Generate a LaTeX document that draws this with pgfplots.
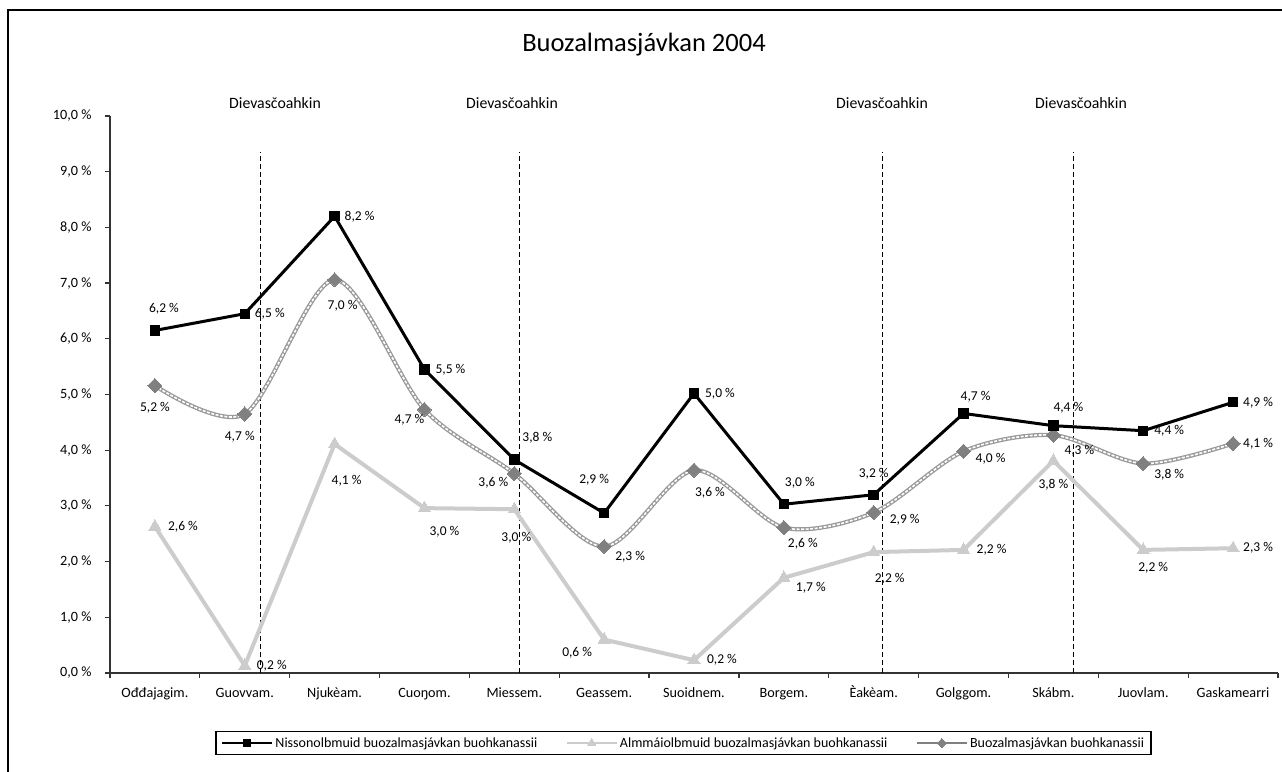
\documentclass[border=0pt]{standalone}
\usepackage{pgfplots}
\usepackage{pgfplotstable}
\pgfplotsset{compat=1.18}
\usepackage{fontspec}
\setmainfont{Carlito}
\definecolor{lightg}{HTML}{CCCCCC}
\definecolor{midg}{HTML}{808080}
\definecolor{dblg}{HTML}{9A9A9A}
\definecolor{axg}{HTML}{333333}

\pgfplotstableread{
x y lab dx dy
0 6.15 6,2 9 22
1 6.45 6,5 25 0
2 8.20 8,2 25 0
3 5.45 5,5 26 0
4 3.83 3,8 23 22
5 2.87 2,9 -10 33
6 5.02 5,0 26 0
7 3.03 3,0 16 21
8 3.20 3,2 0 21
9 4.66 4,7 12 17
10 4.44 4,4 15 18
11 4.35 4,4 26 0
12 4.86 4,9 25 0
}\women

\pgfplotstableread{
x y lab dx dy
0 2.63 2,6 28 0
1 0.13 0,2 27 0
2 4.11 4,1 12 -37
3 2.96 3,0 20 -24
4 2.94 3,0 2 -29
5 0.60 0,6 -27 -13
6 0.23 0,2 28 0
7 1.71 1,7 27 -10
8 2.17 2,2 16 -27
9 2.21 2,2 28 0
10 3.81 3,8 0 -24
11 2.21 2,2 10 -18
12 2.24 2,3 25 0
}\men

\pgfplotstableread{
x y lab dx dy
0 5.16 5,2 0 -22
1 4.65 4,7 -5 -23
2 7.06 7,0 8 -26
3 4.73 4,7 -15 -10
4 3.58 3,6 -21 -9
5 2.27 2,3 26 -10
6 3.64 3,6 16 -23
7 2.61 2,6 19 -16
8 2.88 2,9 31 -7
9 3.98 4,0 27 -7
10 4.27 4,3 26 -16
11 3.76 3,8 26 -11
12 4.12 4,1 25 0
}\total

\pgfplotsset{
  lbl/.style={
    nodes near coords={\pgfplotspointmeta{} \%},
    point meta=explicit symbolic,
    visualization depends on={\thisrow{dx} \as \dx},
    visualization depends on={\thisrow{dy} \as \dy},
    nodes near coords style={anchor=center, xshift=\dx pt, yshift=\dy pt, font=\fontsize{13.5}{15}\selectfont, text=black, inner sep=0pt},
  },
  vline/.style={forget plot, black, line width=0.9pt, dash pattern=on 5pt off 3pt},
}

\begin{document}
\begin{tikzpicture}
\path[use as bounding box] (0pt,0pt) rectangle (1282pt,771pt);
\draw[line width=1.3pt, black] (8pt,-5pt) -- (8pt,761pt) -- (1290pt,761pt);
\node[font=\fontsize{26.5}{30}\selectfont] at (644pt,726pt) {Buozalmasjávkan 2004};
\foreach \xx in {275,512,882,1081} {
  \node[font=\fontsize{15.8}{18}\selectfont] at (\xx pt,668pt) {Dievasčoahkin};
}
\begin{axis}[
  at={(110pt,98pt)}, anchor=south west,
  scale only axis, width=1168pt, height=557pt,
  xmin=-0.5, xmax=12.5, ymin=0, ymax=10,
  axis lines=left,
  axis line style={-, axg, line width=1.4pt},
  clip=false,
  xtick={0,...,12},
  xticklabels={Ođđajagim., Guovvam., Njukèam., Cuoŋom., Miessem., Geassem., Suoidnem., Borgem., Èakèam., Golggom., Skábm., Juovlam., Gaskamearri},
  major x tick style={draw=none},
  minor xtick={-0.5,0.5,...,12.5},
  minor tick length=5pt,
  ytick={0,1,...,10},
  major tick length=5pt,
  tick align=outside,
  tick style={axg, line width=1.2pt},
  /pgf/number format/assume math mode=true,
  yticklabel={\pgfmathprintnumber[fixed,fixed zerofill,precision=1,use comma]{\tick} \%},
  ticklabel style={font=\fontsize{14.2}{16}\selectfont},
  xticklabel style={text height=11pt, text depth=3pt, yshift=-5pt},
  yticklabel style={xshift=-10pt},
  legend columns=3,
  legend style={at={(0.491,-0.1257)}, anchor=center, draw=black, line width=1.3pt,
    font=\fontsize{14}{16}\selectfont, inner ysep=4pt, inner xsep=5pt,
    /tikz/every even column/.append style={column sep=26pt}},
  legend image code/.code={
    \draw[mark repeat=2,mark phase=2,#1] plot coordinates {(0pt,0pt)(25pt,0pt)(50pt,0pt)};
  },
]
% vertical dashed lines
\addplot[vline] coordinates {(1.17,0) (1.17,9.35)};
\addplot[vline] coordinates {(4.06,0) (4.06,9.35)};
\addplot[vline] coordinates {(8.10,0) (8.10,9.35)};
\addplot[vline] coordinates {(10.22,0) (10.22,9.35)};

% total: double smooth line
\addplot[forget plot, dblg, line width=4.2pt, smooth] table[x=x,y=y] {\total};
\addplot[forget plot, white, line width=1.6pt, smooth, dash pattern=on 3pt off 1.5pt] table[x=x,y=y] {\total};

% men (light)
\addplot[forget plot, lbl, lightg, line width=4pt, mark=triangle*, mark size=7pt, mark options={fill=lightg, draw=lightg, line width=0pt}] table[x=x,y=y,meta=lab] {\men};

% total marks
\addplot[forget plot, lbl, draw=none, mark=square*, mark size=5pt, mark options={rotate=45, fill=midg, draw=midg, line width=0pt}] table[x=x,y=y,meta=lab] {\total};

% women (black)
\addplot[forget plot, lbl, black, line width=3pt, mark=square*, mark size=4.7pt, mark options={fill=black, line width=0pt}] table[x=x,y=y,meta=lab] {\women};

\addlegendimage{black, line width=2.6pt, mark=square*, mark size=3.8pt, mark options={line width=0pt}}
\addlegendentry{Nissonolbmuid buozalmasjávkan buohkanassii}
\addlegendimage{lightg, line width=2.6pt, mark=triangle*, mark size=4.8pt, mark options={line width=0pt}}
\addlegendentry{Almmáiolbmuid buozalmasjávkan buohkanassii}
\addlegendimage{midg, line width=2.6pt, mark=square*, mark size=3.2pt, mark options={rotate=45, line width=0pt}}
\addlegendentry{Buozalmasjávkan buohkanassii}
\end{axis}
\end{tikzpicture}
\end{document}
